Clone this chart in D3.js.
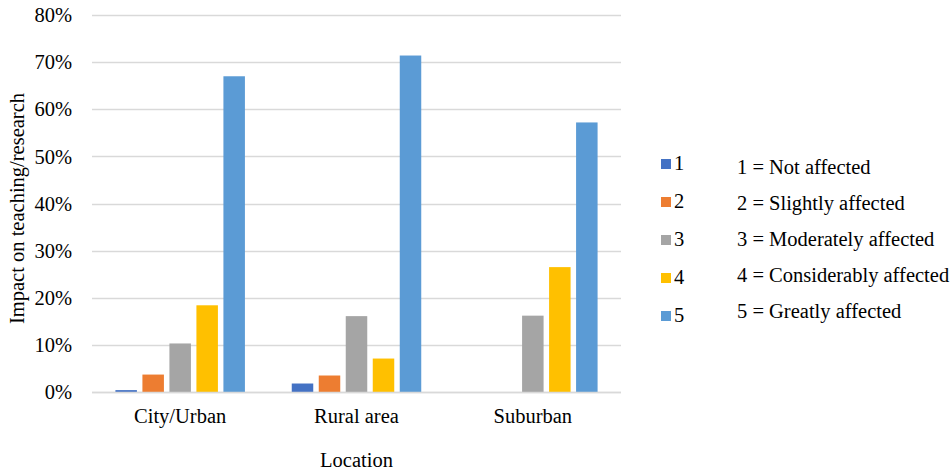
<!DOCTYPE html>
<html><head><meta charset="utf-8"><script src="https://cdn.jsdelivr.net/npm/d3@7"></script></head>
<body style="margin:0">
<svg id="c" width="951" height="472"></svg>
<script>
const categories = ["City/Urban", "Rural area", "Suburban"];
const seriesNames = ["1", "2", "3", "4", "5"];
const seriesColors = ["#4472C4", "#ED7D31", "#A5A5A5", "#FFC000", "#5B9BD5"];
const values1 = [0.004, 0.018, 0.0];
const values2 = [0.037, 0.035, 0.0];
const values3 = [0.103, 0.161, 0.162];
const values4 = [0.184, 0.071, 0.265];
const values5 = [0.670, 0.714, 0.572];
const yTicks = [0, 0.1, 0.2, 0.3, 0.4, 0.5, 0.6, 0.7, 0.8];
const explanations = ["1 = Not affected", "2 = Slightly affected", "3 = Moderately affected", "4 = Considerably affected", "5 = Greatly affected"];
const seriesValues = [values1, values2, values3, values4, values5];

const svg = d3.select("#c");
const m = {l: 92, r: 621, t: 15, b: 392};
const FS = "20.5px";
const FF = '"Liberation Serif"';
function txt(sel) { return sel.style("font-family", FF).style("font-size", FS).style("fill", "#000"); }

const x = d3.scaleBand().domain(categories).range([m.l, m.r]);
const y = d3.scaleLinear().domain([0, 0.8]).range([m.b, m.t]);
const bw = 21.5, step = 27;
const xs = d3.scaleBand().domain(seriesNames).range([0, step * 5]);

svg.append("g").selectAll("line").data(yTicks).join("line")
  .attr("x1", m.l).attr("x2", m.r)
  .attr("y1", d => Math.round(y(d)) + 0.5).attr("y2", d => Math.round(y(d)) + 0.5)
  .attr("stroke", "#D9D9D9").attr("stroke-width", 1.3);

txt(svg.append("g").selectAll("text").data(yTicks).join("text")
  .attr("x", 72).attr("y", d => y(d)).attr("dy", "0.35em")
  .attr("text-anchor", "end")
  .text(d => d3.format(".0%")(d)));

const groupW = step * 5 - (step - bw);
seriesNames.forEach((s, si) => {
  svg.append("g").selectAll("rect").data(categories.map((c, i) => ({c, v: seriesValues[si][i]}))).join("rect")
    .attr("x", d => x(d.c) + x.bandwidth() / 2 - groupW / 2 + xs(s))
    .attr("width", bw)
    .attr("y", d => y(d.v))
    .attr("height", d => y(0) - y(d.v))
    .attr("fill", seriesColors[si]);
});

svg.append("line").attr("x1", m.l).attr("x2", m.r).attr("y1", Math.round(y(0)) + 0.5).attr("y2", Math.round(y(0)) + 0.5)
  .attr("stroke", "#D9D9D9").attr("stroke-width", 1.3);

txt(svg.append("g").selectAll("text").data(categories).join("text")
  .attr("x", d => x(d) + x.bandwidth() / 2).attr("y", 423)
  .attr("text-anchor", "middle").text(d => d));

txt(svg.append("text").attr("x", (m.l + m.r) / 2).attr("y", 467).attr("text-anchor", "middle")
  .text("Location"));
txt(svg.append("text").attr("transform", `translate(24,${(m.t + m.b) / 2 + 5}) rotate(-90)`)
  .attr("text-anchor", "middle").text("Impact on teaching/research"));

seriesNames.forEach((s, i) => {
  const cy = 164 + i * 38;
  svg.append("rect").attr("x", 661).attr("y", cy - 5).attr("width", 10).attr("height", 10).attr("fill", seriesColors[i]);
  txt(svg.append("text").attr("x", 674).attr("y", cy + 6).text(s));
});
txt(svg.append("g").selectAll("text").data(explanations).join("text")
  .attr("x", 737).attr("y", (d, i) => 174 + i * 36).text(d => d));
</script></body></html>
